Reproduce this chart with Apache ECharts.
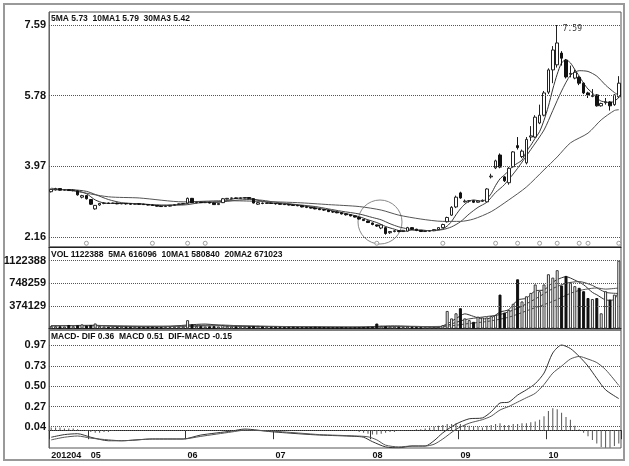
<!DOCTYPE html>
<html><head><meta charset="utf-8">
<script src="https://cdn.jsdelivr.net/npm/echarts@6/dist/echarts.min.js"></script>
<style>html,body{margin:0;padding:0;background:#fff}#c{width:629px;height:466px}</style>
</head><body><div id="c"></div>
<script>
// ---------- categories ----------
const monthNums = ['04','05','06','07','08','09','10'];
const aprDays = [17,18,19,20,23,24,25,26,27];
const mayDays = [2,3,4,7,8,9,10,11,14,15,16,17,18,21,22,23,24,25,28,29,30,31];
const junDays = [1,4,5,6,7,8,11,12,13,14,15,18,19,20,21,25,26,27,28,29];
const julDays = [2,3,4,5,6,9,10,11,12,13,16,17,18,19,20,23,24,25,26,27,30,31];
const augDays = [1,2,3,6,7,8,9,10,13,14,15,16,17,20,21,22,23,24,27,28];
const sepDays = [3,4,5,6,7,10,11,12,13,14,17,18,19,20,21,24,25,26,27,28];
const octDays = [8,9,10,11,12,15,16,17,18,19,22,23,24,25,26,29,30];
const tickLabels = ['201204','05','06','07','08','09','10'];

// ---------- price (OHLC) ----------
const opens = [3.32,3.37,3.40,3.36,3.37,3.35,3.34,3.18,3.22,
3.12,2.88,2.98,3.02,3.03,3.02,3.03,3.01,3.02,3.01,3.00,3.01,3.00,2.99,2.98,2.97,2.95,2.94,2.95,2.97,2.99,3.01,
3.03,3.15,3.04,3.05,3.04,3.05,3.03,2.99,3.04,3.13,3.15,3.16,3.15,3.16,3.17,3.14,3.00,3.03,3.02,3.03,
3.02,3.01,3.00,2.99,2.98,2.97,2.96,2.93,2.92,2.90,2.88,2.86,2.85,2.81,2.80,2.78,2.75,2.73,2.70,2.66,2.61,2.57,
2.52,2.47,2.39,2.40,2.27,2.30,2.32,2.30,2.31,2.40,2.36,2.33,2.30,2.31,2.32,2.35,2.40,2.55,2.72,2.93,
3.29,3.06,3.08,3.09,3.05,3.08,3.06,3.70,3.93,4.26,3.70,3.55,3.96,4.50,4.22,4.06,4.72,4.72,5.08,5.28,
5.87,6.44,6.57,6.87,6.69,6.33,6.23,6.25,6.10,5.85,5.76,5.80,5.52,5.60,5.62,5.55,5.75];
const closes = [3.38,3.40,3.36,3.37,3.35,3.36,3.24,3.22,3.14,
3.00,2.97,3.02,3.03,3.02,3.03,3.01,3.02,3.01,3.00,3.01,3.00,2.99,2.98,2.97,2.95,2.94,2.95,2.97,2.99,3.01,3.02,
3.15,3.04,3.05,3.04,3.05,3.03,2.99,3.02,3.14,3.15,3.16,3.15,3.16,3.17,3.15,3.03,3.04,3.02,3.03,3.02,
3.01,3.00,2.99,2.98,2.97,2.96,2.93,2.92,2.90,2.88,2.86,2.85,2.81,2.80,2.78,2.75,2.73,2.70,2.67,2.62,2.58,2.53,
2.48,2.44,2.47,2.25,2.30,2.32,2.30,2.33,2.40,2.36,2.33,2.30,2.31,2.32,2.35,2.40,2.48,2.66,2.92,3.18,
3.16,3.08,3.09,3.05,3.08,3.10,3.39,3.72,4.11,3.95,3.60,3.92,4.34,4.45,4.36,4.66,4.75,5.23,5.28,5.85,
6.44,6.95,7.13,6.74,6.26,6.35,6.38,6.10,5.85,5.80,5.78,5.52,5.58,5.62,5.52,5.80,6.10];
const lows = [3.30,3.35,3.35,3.35,3.34,3.33,3.22,3.15,3.12,
2.98,2.86,2.96,3.00,3.01,3.01,3.00,3.00,2.99,2.99,2.99,2.98,2.98,2.97,2.96,2.94,2.93,2.93,2.94,2.96,2.98,3.00,
3.02,3.03,3.02,3.03,3.03,3.02,2.98,2.98,3.03,3.12,3.14,3.14,3.14,3.15,3.14,3.02,2.98,3.00,3.01,3.01,
2.99,2.99,2.98,2.97,2.96,2.95,2.92,2.90,2.89,2.87,2.85,2.83,2.80,2.78,2.77,2.74,2.71,2.69,2.66,2.61,2.57,2.52,
2.46,2.42,2.36,2.22,2.24,2.28,2.28,2.29,2.30,2.34,2.31,2.29,2.29,2.30,2.31,2.34,2.39,2.53,2.70,2.90,
3.14,3.04,3.04,3.03,3.04,3.06,3.05,3.66,3.90,3.92,3.57,3.50,3.94,4.40,4.18,4.02,4.62,4.70,5.05,5.25,
5.82,6.10,6.50,6.55,6.22,6.25,6.20,6.05,5.82,5.72,5.74,5.50,5.50,5.55,5.40,5.52,5.72];
const highs = [3.40,3.42,3.41,3.38,3.38,3.38,3.35,3.24,3.23,
3.13,2.98,3.03,3.05,3.04,3.04,3.04,3.03,3.03,3.02,3.02,3.02,3.01,3.00,2.99,2.98,2.96,2.96,2.98,3.00,3.02,3.03,
3.17,3.16,3.06,3.06,3.06,3.06,3.04,3.03,3.16,3.16,3.17,3.17,3.17,3.18,3.18,3.15,3.06,3.04,3.04,3.04,
3.03,3.02,3.01,3.00,2.99,2.98,2.97,2.94,2.93,2.91,2.89,2.87,2.86,2.82,2.81,2.79,2.76,2.74,2.71,2.67,2.62,2.58,
2.53,2.48,2.48,2.42,2.31,2.34,2.33,2.34,2.42,2.41,2.37,2.34,2.32,2.33,2.36,2.41,2.50,2.68,2.95,3.22,
3.32,3.12,3.10,3.10,3.09,3.12,3.41,3.78,4.14,4.30,3.72,3.95,4.36,4.72,4.40,4.72,5.00,5.28,5.55,5.90,
6.48,7.05,7.59,6.92,6.72,6.55,6.45,6.28,6.12,5.88,5.95,5.82,5.60,5.72,5.64,5.82,6.28];

// price moving averages as [day index, value]
const ma5 = [[0,3.37],[4,3.37],[6,3.34],[8,3.27],[10,3.11],[12,3.03],[14,3.02],[20,3.01],[25,2.96],[30,3.00],[33,3.07],[36,3.06],[39,3.07],[42,3.15],[45,3.16],[47,3.10],[50,3.03],[55,2.99],[60,2.91],[65,2.81],[70,2.68],[72,2.60],[74,2.53],[76,2.43],[78,2.36],[80,2.30],[82,2.34],[84,2.34],[86,2.32],[88,2.34],[89,2.37],[90,2.44],[91,2.56],[92,2.73],[93,2.88],[94,3.00],[95,3.08],[96,3.11],[97,3.09],[98,3.08],[99,3.14],[100,3.27],[101,3.48],[102,3.65],[103,3.75],[104,3.86],[105,3.98],[106,4.05],[107,4.13],[108,4.35],[109,4.51],[110,4.69],[111,4.86],[112,5.15],[113,5.51],[114,5.95],[115,6.33],[116,6.62],[117,6.70],[118,6.62],[119,6.45],[120,6.28],[121,6.10],[122,5.95],[123,5.85],[124,5.72],[125,5.64],[126,5.62],[127,5.60],[128,5.64],[129,5.73]];
const ma10 = [[0,3.38],[5,3.37],[8,3.33],[10,3.25],[13,3.12],[16,3.04],[20,3.01],[25,2.98],[30,2.98],[34,3.04],[38,3.05],[42,3.10],[45,3.12],[48,3.10],[51,3.05],[55,3.00],[60,2.94],[63,2.88],[66,2.82],[70,2.75],[73,2.66],[75,2.60],[77,2.50],[79,2.42],[81,2.37],[84,2.32],[87,2.33],[89,2.35],[91,2.42],[93,2.55],[95,2.75],[97,2.92],[99,3.05],[101,3.30],[103,3.50],[106,3.92],[109,4.40],[112,4.90],[114,5.40],[116,5.90],[118,6.30],[120,6.42],[122,6.40],[124,6.28],[126,6.05],[128,5.86],[129,5.79]];
const ma30 = [[0,3.41],[5,3.34],[13,3.19],[20,3.16],[30,3.06],[39,3.09],[45,3.08],[56,3.04],[63,2.99],[70,2.94],[75,2.85],[79,2.72],[84,2.62],[89,2.56],[93,2.56],[96,2.62],[100,2.81],[104,3.11],[108,3.44],[112,3.88],[115,4.21],[118,4.57],[122,4.82],[125,5.16],[128,5.40],[129,5.42]];

// signal markers under the candles
const signalIdx = [8,23,31,35,74,89,101,106,111,115,120,122,129];
const signalLevel = 2.0;

// ---------- volume ----------
const volumes = [45000,40000,38000,35000,60000,40000,55000,70000,50000,
60000,85000,45000,35000,30000,30000,28000,32000,30000,28000,30000,27000,25000,28000,30000,26000,24000,25000,27000,30000,32000,35000,
140000,70000,45000,40000,35000,38000,40000,35000,60000,45000,38000,35000,32000,30000,35000,40000,45000,35000,30000,28000,
30000,28000,26000,28000,30000,25000,22000,24000,26000,30000,28000,25000,22000,20000,22000,25000,20000,18000,20000,22000,25000,28000,
30000,84000,45000,40000,35000,32000,30000,28000,35000,30000,25000,22000,20000,18000,20000,28000,56000,
292000,169000,253000,337000,169000,140000,112000,197000,185000,185000,208000,225000,562000,264000,
309000,410000,815000,449000,534000,590000,730000,618000,730000,899000,843000,966000,713000,871000,758000,702000,674000,618000,506000,489000,506000,253000,618000,478000,562000,1122388];
const vma5 = [[0,45000],[10,55000],[15,35000],[25,28000],[31,60000],[35,75000],[40,42000],[50,33000],[60,26000],[70,21000],[74,38000],[78,45000],[84,28000],[88,22000],[90,80000],[92,165000],[94,244000],[96,202000],[98,161000],[100,177000],[102,273000],[104,314000],[106,472000],[108,503000],[110,624000],[112,640000],[114,764000],[115,811000],[117,858000],[119,802000],[121,725000],[123,598000],[124,559000],[126,474000],[127,469000],[128,483000],[129,616096]];
const vma10 = [[0,48000],[10,50000],[20,35000],[31,45000],[38,60000],[45,40000],[55,30000],[65,24000],[75,30000],[82,38000],[88,28000],[90,55000],[94,147000],[98,191000],[102,232000],[106,336000],[110,489000],[114,662000],[117,749000],[120,777000],[123,714000],[126,600000],[129,580840]];
const vma20 = [[0,50000],[15,45000],[30,38000],[40,48000],[55,33000],[70,26000],[80,32000],[90,40000],[95,85000],[99,117000],[104,188000],[109,320000],[114,450000],[119,610000],[124,671000],[126,653000],[129,671023]];

// ---------- MACD ----------
const dif = [[0,-0.08],[3,-0.05],[6,-0.04],[9,-0.08],[13,-0.12],[16,-0.12],[23,-0.10],[30,-0.10],[34,-0.055],[41,-0.01],[44,0.013],[50,-0.017],[57,-0.043],[61,-0.055],[69,-0.07],[71,-0.08],[73,-0.13],[76,-0.19],[79,-0.20],[82,-0.18],[85,-0.18],[87,-0.12],[89,-0.03],[92,0.07],[95,0.13],[98,0.14],[100,0.21],[102,0.31],[104,0.32],[106,0.40],[108,0.46],[110,0.53],[112,0.65],[114,0.88],[116,0.97],[118,0.93],[120,0.84],[122,0.73],[124,0.59],[126,0.46],[129,0.36]];
const dea = [[0,-0.11],[3,-0.08],[6,-0.066],[9,-0.09],[13,-0.11],[16,-0.12],[23,-0.10],[30,-0.10],[34,-0.07],[41,-0.02],[44,0.0],[50,-0.01],[57,-0.035],[61,-0.05],[69,-0.065],[72,-0.075],[74,-0.11],[76,-0.17],[79,-0.19],[82,-0.18],[85,-0.18],[87,-0.16],[89,-0.10],[92,0.01],[95,0.08],[98,0.12],[100,0.16],[102,0.23],[104,0.27],[106,0.32],[108,0.37],[110,0.42],[112,0.52],[114,0.65],[116,0.73],[118,0.81],[120,0.84],[122,0.81],[124,0.77],[126,0.69],[129,0.51]];
const hist = [0.03,0.03,0.03,0.02,0.02, 0.02,0.01,0.00,-0.01,
-0.02,-0.03,-0.03,-0.02,-0.02,-0.01,
0,0,0,0,0,0,0,0,0,0,0,0,0,0,0,0,0,0,0,0,0,0,0,0,0,0,0,0,0,0,0,0,0,0,0,0,0,0,0,0,0,0,0,0,0,0,0,0,0,0,0,0,0,0,0,
-0.02,-0.03,-0.04,-0.05,-0.05,-0.04,-0.03,-0.02,-0.02,-0.01,-0.01,
0,0,0.01,0.01,0.02,0.03,0.04,
0.05,0.06,0.07,0.07,0.08,
0.07,0.06,0.05,0.04,0.04,0.03,0.05,0.06,0.07,0.08,0.06,0.06,0.07,0.07,0.08,0.08,0.09,0.10,
0.12,0.16,0.22,0.25,0.24,0.20,0.15,0.12,0.05,0.01,-0.03,
-0.07,-0.11,-0.15,-0.19,-0.20,-0.20,-0.18,-0.15];

// axis tick values
const priceTicks = [2.16,3.97,5.78,7.59];
const volTicks = [374129,748259,1122388];
const macdTicks = [0.04,0.27,0.50,0.73,0.97];

// ---------- build ----------
const monthDays = [aprDays,mayDays,junDays,julDays,augDays,sepDays,octDays];
const dates = [];
const monthStart = [];
monthNums.forEach((m,k)=>{
  monthStart.push(dates.length);
  monthDays[k].forEach(d=>dates.push('2012-'+m+'-'+String(d).padStart(2,'0')));
});
const candle = opens.map((o,i)=>[o,closes[i],lows[i],highs[i]]);
const volData = volumes.map((v,i)=>({value:v, itemStyle: closes[i]>=opens[i]
  ? {color:'#fff',borderColor:'#333',borderWidth:1}
  : {color:'#111',borderColor:'#111',borderWidth:1}}));

const FONT = '"Liberation Sans",Arial,sans-serif';
const LBL = {fontFamily:FONT,fontWeight:'bold',fontSize:11,color:'#111',margin:3};
const HFONT = 'bold 8.5px "Liberation Sans",Arial,sans-serif';

function gridLines(vals){
  return {silent:true,symbol:['none','none'],label:{show:false},animation:false,
    lineStyle:{type:'dotted',color:'#555',width:1},data:vals.map(v=>({yAxis:v}))};
}
function lineS(data,xi,yi,color){
  return {type:'line',xAxisIndex:xi,yAxisIndex:yi,data:data,smooth:0.25,showSymbol:false,symbol:'none',
    lineStyle:{color:color,width:1},silent:true,z:2};
}
const isStart = (idx)=>monthStart.indexOf(idx)>=0;

const gridBase = {left:49,right:8,show:true,borderColor:'#555',borderWidth:1,containLabel:false,outerBoundsMode:'none'};
const xBase = {type:'category',data:dates,boundaryGap:true,axisLine:{show:true,lineStyle:{color:'#222'}},
  axisTick:{show:false},axisLabel:{show:false},splitLine:{show:false}};

const option = {
  animation:false,
  backgroundColor:'#fff',
  grid:[
    Object.assign({top:12,height:235},gridBase),
    Object.assign({top:247,height:83},gridBase),
    Object.assign({top:330,height:118},gridBase)
  ],
  xAxis:[
    Object.assign({gridIndex:0},xBase),
    Object.assign({gridIndex:1},xBase),
    Object.assign({},xBase,{gridIndex:2,
      axisTick:{show:true,interval:(i)=>isStart(i),length:9,lineStyle:{color:'#333'}},
      axisLabel:{show:true,interval:(i)=>isStart(i),showMinLabel:true,hideOverlap:false,align:'left',margin:3,
        formatter:(v,i)=>tickLabels[monthStart.indexOf(i)]||'',
        fontFamily:FONT,fontWeight:'bold',fontSize:9,color:'#111'}})
  ],
  yAxis:[
    {gridIndex:0,type:'value',min:1.904,max:7.923,splitLine:{show:false},axisTick:{show:false},
      axisLine:{show:true,lineStyle:{color:'#666'}},
      axisLabel:Object.assign({customValues:priceTicks,formatter:v=>v.toFixed(2)},LBL)},
    {gridIndex:1,type:'value',min:-23142,max:1348854,splitLine:{show:false},axisTick:{show:false},
      axisLine:{show:true,lineStyle:{color:'#666'}},
      axisLabel:Object.assign({customValues:volTicks,formatter:v=>String(Math.round(v))},LBL)},
    {gridIndex:2,type:'value',min:-0.2025,max:1.141,splitLine:{show:false},axisTick:{show:false},
      axisLine:{show:true,lineStyle:{color:'#666'}},
      axisLabel:Object.assign({customValues:macdTicks,formatter:v=>v.toFixed(2)},LBL)}
  ],
  series:[
    {type:'candlestick',xAxisIndex:0,yAxisIndex:0,data:candle,barWidth:3,z:3,
      itemStyle:{color:'#fff',color0:'#111',borderColor:'#222',borderColor0:'#111',borderWidth:1},
      markLine:gridLines(priceTicks),
      markPoint:{symbol:'rect',symbolSize:1,itemStyle:{color:'rgba(0,0,0,0)'},animation:false,
        data:[{type:'max',valueDim:'highest'}],
        label:{show:true,position:'right',offset:[0,4],formatter:p=>Number(p.value).toFixed(2),
          fontFamily:'"DejaVu Sans Mono",monospace',fontSize:8,color:'#333'}}},
    lineS(ma5,0,0,'#333'),
    lineS(ma10,0,0,'#444'),
    lineS(ma30,0,0,'#555'),
    {type:'scatter',xAxisIndex:0,yAxisIndex:0,data:signalIdx.map(i=>[i,signalLevel]),symbol:'circle',symbolSize:4,
      itemStyle:{color:'#fff',borderColor:'#888',borderWidth:1},silent:true,z:4},
    {type:'bar',xAxisIndex:1,yAxisIndex:1,data:volData,barWidth:3,z:3,markLine:gridLines(volTicks)},
    lineS(vma5,1,1,'#333'),
    lineS(vma10,1,1,'#444'),
    lineS(vma20,1,1,'#555'),
    {type:'bar',xAxisIndex:2,yAxisIndex:2,data:hist,barWidth:1,itemStyle:{color:'#555'},z:2,
      markLine:gridLines(macdTicks.concat([0]))},
    lineS(dif,2,2,'#333'),
    lineS(dea,2,2,'#555')
  ],
  graphic:[
    {type:'rect',shape:{x:4,y:4,width:620,height:456},style:{fill:'none',stroke:'#999',lineWidth:2},silent:true},
    {type:'circle',shape:{cx:380,cy:222,r:22},style:{fill:'none',stroke:'#888',lineWidth:1},silent:true},
    {type:'text',x:51,y:19,style:{text:'5MA 5.73  10MA1 5.79  30MA3 5.42',font:HFONT,fill:'#111',verticalAlign:'middle'},silent:true},
    {type:'text',x:51,y:255,style:{text:'VOL 1122388  5MA 616096  10MA1 580840  20MA2 671023',font:HFONT,fill:'#111',verticalAlign:'middle'},silent:true},
    {type:'text',x:51,y:337,style:{text:'MACD- DIF 0.36  MACD 0.51  DIF-MACD -0.15',font:HFONT,fill:'#111',verticalAlign:'middle'},silent:true}
  ]
};
echarts.init(document.getElementById('c'),null,{renderer:'canvas'}).setOption(option);
</script></body></html>
